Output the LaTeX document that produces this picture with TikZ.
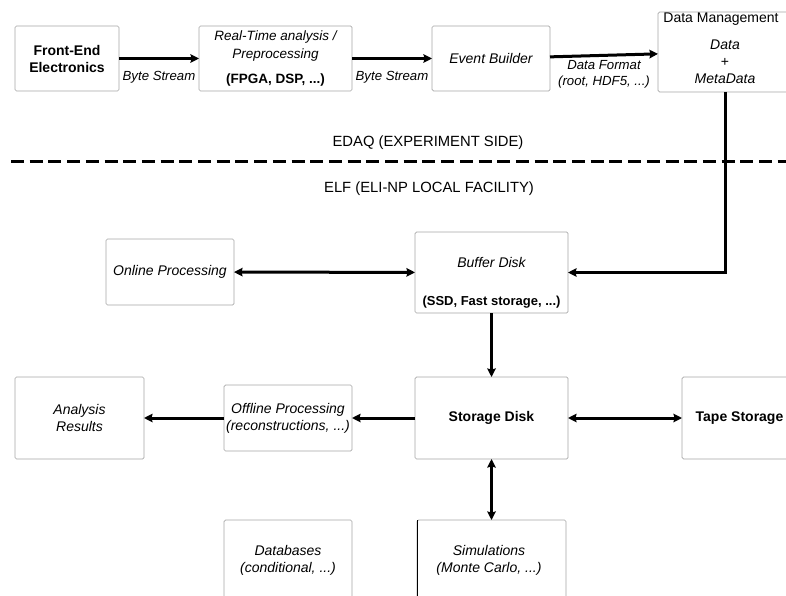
\documentclass[tikz,border=0pt]{standalone}
\usepackage{fontspec}
\setmainfont{Liberation Sans}
\usetikzlibrary{arrows.meta}

\tikzset{
  box/.style={draw=gray!70, line width=0.7pt, rounded corners=1.5pt, fill=white,
              inner sep=0pt, outer sep=0pt},
  txt/.style={align=center, inner sep=0pt, font=\fontsize{14}{17}\selectfont},
  lab/.style={align=center, inner sep=0pt, font=\fontsize{13.2}{16}\selectfont\itshape},
  tip/.style={Stealth[length=8.5pt,width=8.5pt,inset=1pt]},
  arr/.style={line width=3pt, -{Stealth[length=8.5pt,width=8.5pt,inset=1pt]}},
  darr/.style={line width=3pt, {Stealth[length=8.5pt,width=8.5pt,inset=1pt]}-{Stealth[length=8.5pt,width=8.5pt,inset=1pt]}},
  sep/.style={line width=2.7pt, dash pattern=on 13pt off 5.7pt}
}

\begin{document}
\begin{tikzpicture}[x=1pt,y=-1pt]
\useasboundingbox (0,0) rectangle (786,596);
\clip (0,0) rectangle (786,596);

% ---------- acquisition chain ----------
\node[box, minimum width=104, minimum height=65] (fee) at (67,58.5) {};
\node[txt, font=\fontsize{14}{17}\selectfont\bfseries] (feet) at (fee) {Front-End\\Electronics};

\node[box, minimum width=153, minimum height=65] (rt) at (275.5,58.5) {};
\node[txt, font=\fontsize{13.5}{18}\selectfont\itshape] (rtt) at (275.5,46.5) {Real-Time analysis /\\Preprocessing};
\node[txt, font=\fontsize{13.5}{16}\selectfont\bfseries] (rtb) at (275.5,80) {(FPGA, DSP, ...)};

\node[box, minimum width=118, minimum height=65] (eb) at (491,58.5) {};
\node[txt, font=\fontsize{14}{17}\selectfont\itshape] (ebt) at (eb) {Event Builder};

\node[box, minimum width=134, minimum height=80] (dm) at (725,52) {};
\node[txt] (dmt) at (721,19) {Data Management};
\node[txt, font=\fontsize{14}{17}\selectfont\itshape] (dmd) at (725,45) {Data};
\node[txt] (dmp) at (725,62) {+};
\node[txt, font=\fontsize{14}{17}\selectfont\itshape] (dmm) at (725,79) {MetaData};

\draw[arr] (fee) -- node[lab, below=11pt] (l1) {Byte Stream} (rt);
\draw[arr] (rt) -- node[lab, below=11pt] (l2) {Byte Stream} (eb);
\draw[arr] (eb) -- node[lab, below=4pt] (l3) {Data Format\\(root, HDF5, ...)} (dm);

% ---------- boundary between the two sides ----------
\node[txt, font=\fontsize{14.8}{18}\selectfont] (edaq) at (428,143) {EDAQ (EXPERIMENT SIDE)};
\coordinate (sl) at (11,161.5);
\coordinate (sr) at (786,161.5);
\draw[sep] (sl) -- (sr);
\node[txt, font=\fontsize{14.8}{18}\selectfont] (elf) at (429,189) {ELF (ELI-NP LOCAL FACILITY)};

% ---------- local facility ----------
\node[box, minimum width=128, minimum height=66] (online) at (170,272) {};
\node[txt, font=\fontsize{14}{17}\selectfont\itshape] (onlinet) at (online) {Online Processing};

\node[box, minimum width=153, minimum height=81] (buf) at (491.5,272.5) {};
\node[txt, font=\fontsize{14}{17}\selectfont\itshape] (buft) at (491.5,262) {Buffer Disk};
\node[txt, font=\fontsize{13}{16}\selectfont\bfseries] (bufb) at (491.5,302) {(SSD, Fast storage, ...)};

\node[box, minimum width=153, minimum height=82] (storage) at (491.5,418) {};
\node[txt, font=\fontsize{14}{17}\selectfont\bfseries] (storaget) at (storage) {Storage Disk};

\node[box, minimum width=112, minimum height=82] (tape) at (738,418) {};
\node[txt, font=\fontsize{14}{17}\selectfont\bfseries] (tapet) at (739.5,418) {Tape Storage};

\node[box, minimum width=128, minimum height=66] (offline) at (288,418) {};
\node[txt, font=\fontsize{14}{17}\selectfont\itshape] (offlinet) at (offline) {Offline Processing\\(reconstructions, ...)};

\node[box, minimum width=129, minimum height=82] (analysis) at (79.5,418) {};
\node[txt, font=\fontsize{14}{17}\selectfont\itshape] (analysist) at (analysis) {Analysis\\Results};

\node[box, minimum width=128, minimum height=100] (db) at (288,570) {};
\node[txt, font=\fontsize{14}{17}\selectfont\itshape] (dbt) at (288,560) {Databases\\(conditional, ...)};

\node[box, minimum width=149, minimum height=100] (sim) at (491.5,570) {};
\draw[line width=0.8pt] (sim.north west) -- (sim.south west);
\node[txt, font=\fontsize{14}{17}\selectfont\itshape] (simt) at (489,560) {Simulations\\(Monte Carlo, ...)};

% ---------- data flow ----------
\draw[arr] (dm.south) |- (buf.east);
\draw[darr] (online) -- (buf);
\draw[arr] (buf) -- (storage);
\draw[darr] (storage) -- (tape);
\draw[arr] (storage) -- (offline);
\draw[arr] (offline) -- (analysis);
\draw[darr] (storage) -- (sim);
\end{tikzpicture}
\end{document}
